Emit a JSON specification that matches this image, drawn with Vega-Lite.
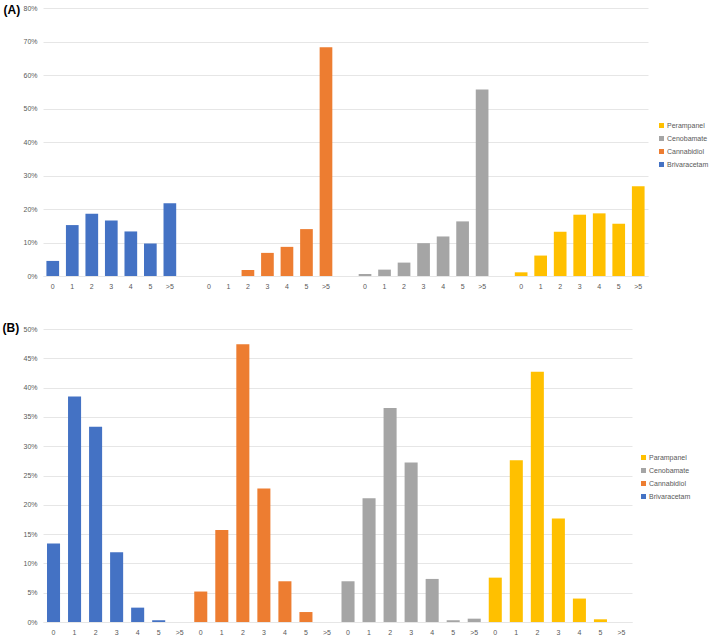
{
  "$schema": "https://vega.github.io/schema/vega-lite/v6.json",
  "background": "white",
  "padding": {"left": 2, "top": 3, "right": 0, "bottom": 0},
  "datasets": {
    "A": [
      {"drug": "Brivaracetam", "cat": "0", "slot": "b0", "pct": 0.045},
      {"drug": "Brivaracetam", "cat": "1", "slot": "b1", "pct": 0.152},
      {"drug": "Brivaracetam", "cat": "2", "slot": "b2", "pct": 0.186},
      {"drug": "Brivaracetam", "cat": "3", "slot": "b3", "pct": 0.166},
      {"drug": "Brivaracetam", "cat": "4", "slot": "b4", "pct": 0.133},
      {"drug": "Brivaracetam", "cat": "5", "slot": "b5", "pct": 0.097},
      {"drug": "Brivaracetam", "cat": ">5", "slot": "b>5", "pct": 0.217},
      {"drug": "Cannabidiol", "cat": "0", "slot": "c0", "pct": 0},
      {"drug": "Cannabidiol", "cat": "1", "slot": "c1", "pct": 0},
      {"drug": "Cannabidiol", "cat": "2", "slot": "c2", "pct": 0.018},
      {"drug": "Cannabidiol", "cat": "3", "slot": "c3", "pct": 0.069},
      {"drug": "Cannabidiol", "cat": "4", "slot": "c4", "pct": 0.087},
      {"drug": "Cannabidiol", "cat": "5", "slot": "c5", "pct": 0.140},
      {"drug": "Cannabidiol", "cat": ">5", "slot": "c>5", "pct": 0.683},
      {"drug": "Cenobamate", "cat": "0", "slot": "n0", "pct": 0.006},
      {"drug": "Cenobamate", "cat": "1", "slot": "n1", "pct": 0.019},
      {"drug": "Cenobamate", "cat": "2", "slot": "n2", "pct": 0.040},
      {"drug": "Cenobamate", "cat": "3", "slot": "n3", "pct": 0.098},
      {"drug": "Cenobamate", "cat": "4", "slot": "n4", "pct": 0.118},
      {"drug": "Cenobamate", "cat": "5", "slot": "n5", "pct": 0.163},
      {"drug": "Cenobamate", "cat": ">5", "slot": "n>5", "pct": 0.557},
      {"drug": "Perampanel", "cat": "0", "slot": "p0", "pct": 0.011},
      {"drug": "Perampanel", "cat": "1", "slot": "p1", "pct": 0.061},
      {"drug": "Perampanel", "cat": "2", "slot": "p2", "pct": 0.132},
      {"drug": "Perampanel", "cat": "3", "slot": "p3", "pct": 0.183},
      {"drug": "Perampanel", "cat": "4", "slot": "p4", "pct": 0.187},
      {"drug": "Perampanel", "cat": "5", "slot": "p5", "pct": 0.156},
      {"drug": "Perampanel", "cat": ">5", "slot": "p>5", "pct": 0.268}
    ],
    "B": [
      {"drug": "Brivaracetam", "cat": "0", "slot": "b0", "pct": 0.134},
      {"drug": "Brivaracetam", "cat": "1", "slot": "b1", "pct": 0.385},
      {"drug": "Brivaracetam", "cat": "2", "slot": "b2", "pct": 0.333},
      {"drug": "Brivaracetam", "cat": "3", "slot": "b3", "pct": 0.119},
      {"drug": "Brivaracetam", "cat": "4", "slot": "b4", "pct": 0.0245},
      {"drug": "Brivaracetam", "cat": "5", "slot": "b5", "pct": 0.003},
      {"drug": "Brivaracetam", "cat": ">5", "slot": "b>5", "pct": 0},
      {"drug": "Cannabidiol", "cat": "0", "slot": "c0", "pct": 0.052},
      {"drug": "Cannabidiol", "cat": "1", "slot": "c1", "pct": 0.157},
      {"drug": "Cannabidiol", "cat": "2", "slot": "c2", "pct": 0.474},
      {"drug": "Cannabidiol", "cat": "3", "slot": "c3", "pct": 0.228},
      {"drug": "Cannabidiol", "cat": "4", "slot": "c4", "pct": 0.0695},
      {"drug": "Cannabidiol", "cat": "5", "slot": "c5", "pct": 0.017},
      {"drug": "Cannabidiol", "cat": ">5", "slot": "c>5", "pct": 0},
      {"drug": "Cenobamate", "cat": "0", "slot": "n0", "pct": 0.0695},
      {"drug": "Cenobamate", "cat": "1", "slot": "n1", "pct": 0.211},
      {"drug": "Cenobamate", "cat": "2", "slot": "n2", "pct": 0.365},
      {"drug": "Cenobamate", "cat": "3", "slot": "n3", "pct": 0.272},
      {"drug": "Cenobamate", "cat": "4", "slot": "n4", "pct": 0.0735},
      {"drug": "Cenobamate", "cat": "5", "slot": "n5", "pct": 0.003},
      {"drug": "Cenobamate", "cat": ">5", "slot": "n>5", "pct": 0.0057},
      {"drug": "Parampanel", "cat": "0", "slot": "p0", "pct": 0.0757},
      {"drug": "Parampanel", "cat": "1", "slot": "p1", "pct": 0.276},
      {"drug": "Parampanel", "cat": "2", "slot": "p2", "pct": 0.427},
      {"drug": "Parampanel", "cat": "3", "slot": "p3", "pct": 0.1765},
      {"drug": "Parampanel", "cat": "4", "slot": "p4", "pct": 0.040},
      {"drug": "Parampanel", "cat": "5", "slot": "p5", "pct": 0.0046},
      {"drug": "Parampanel", "cat": ">5", "slot": "p>5", "pct": 0}
    ]
  },
  "vconcat": [
    {
      "width": 605,
      "height": 268,
      "data": {"name": "A"},
      "mark": {"type": "bar"},
      "encoding": {
        "x": {
          "field": "slot",
          "type": "nominal",
          "sort": null,
          "scale": {
            "domain": ["b0", "b1", "b2", "b3", "b4", "b5", "b>5", "g",
                       "c0", "c1", "c2", "c3", "c4", "c5", "c>5", "h",
                       "n0", "n1", "n2", "n3", "n4", "n5", "n>5", "i",
                       "p0", "p1", "p2", "p3", "p4", "p5", "p>5"],
            "paddingInner": 0.35,
            "paddingOuter": 0.175
          },
          "axis": {"title": null, "labelExpr": "substring(datum.value, 1)", "labelAngle": 0}
        },
        "y": {
          "field": "pct",
          "type": "quantitative",
          "scale": {"domain": [0, 0.8]},
          "axis": {
            "values": [0, 0.1, 0.2, 0.3, 0.4, 0.5, 0.6, 0.7, 0.8],
            "format": ".0%",
            "title": "(A)",
            "titleAngle": 0,
            "titleX": -40,
            "titleY": -4,
            "titleAlign": "left",
            "titleBaseline": "top"
          }
        },
        "color": {
          "field": "drug",
          "type": "nominal",
          "scale": {
            "domain": ["Perampanel", "Cenobamate", "Cannabidiol", "Brivaracetam"],
            "range": ["#FFC000", "#A5A5A5", "#ED7D31", "#4472C4"]
          },
          "legend": {"orient": "none", "legendX": 615, "legendY": 114}
        }
      }
    },
    {
      "width": 589,
      "height": 293,
      "data": {"name": "B"},
      "mark": {"type": "bar"},
      "encoding": {
        "x": {
          "field": "slot",
          "type": "nominal",
          "sort": null,
          "scale": {
            "domain": ["b0", "b1", "b2", "b3", "b4", "b5", "b>5",
                       "c0", "c1", "c2", "c3", "c4", "c5", "c>5",
                       "n0", "n1", "n2", "n3", "n4", "n5", "n>5",
                       "p0", "p1", "p2", "p3", "p4", "p5", "p>5"],
            "paddingInner": 0.38,
            "paddingOuter": 0.19
          },
          "axis": {"title": null, "labelExpr": "substring(datum.value, 1)", "labelAngle": 0}
        },
        "y": {
          "field": "pct",
          "type": "quantitative",
          "scale": {"domain": [0, 0.5]},
          "axis": {
            "values": [0, 0.05, 0.1, 0.15, 0.2, 0.25, 0.3, 0.35, 0.4, 0.45, 0.5],
            "format": ".0%",
            "title": "(B)",
            "titleAngle": 0,
            "titleX": -41,
            "titleY": -7,
            "titleAlign": "left",
            "titleBaseline": "top"
          }
        },
        "color": {
          "field": "drug",
          "type": "nominal",
          "scale": {
            "domain": ["Parampanel", "Cenobamate", "Cannabidiol", "Brivaracetam"],
            "range": ["#FFC000", "#A5A5A5", "#ED7D31", "#4472C4"]
          },
          "legend": {"orient": "none", "legendX": 597, "legendY": 125}
        }
      }
    }
  ],
  "spacing": 32,
  "resolve": {"scale": {"color": "independent"}, "legend": {"color": "independent"}},
  "config": {
    "font": "Liberation Sans",
    "view": {"stroke": null},
    "axis": {
      "labelFontSize": 7,
      "labelColor": "#595959",
      "ticks": false,
      "domain": false,
      "gridColor": "#E6E6E6",
      "labelPadding": 6,
      "titleFontSize": 12,
      "titleFontWeight": "bold",
      "titleColor": "black"
    },
    "axisX": {"grid": false, "domain": true, "domainColor": "#E6E6E6"},
    "legend": {
      "title": null,
      "symbolType": "square",
      "symbolSize": 25,
      "symbolStrokeWidth": 0,
      "labelFontSize": 7,
      "labelColor": "#595959",
      "labelOffset": 2,
      "rowPadding": 5
    }
  }
}
